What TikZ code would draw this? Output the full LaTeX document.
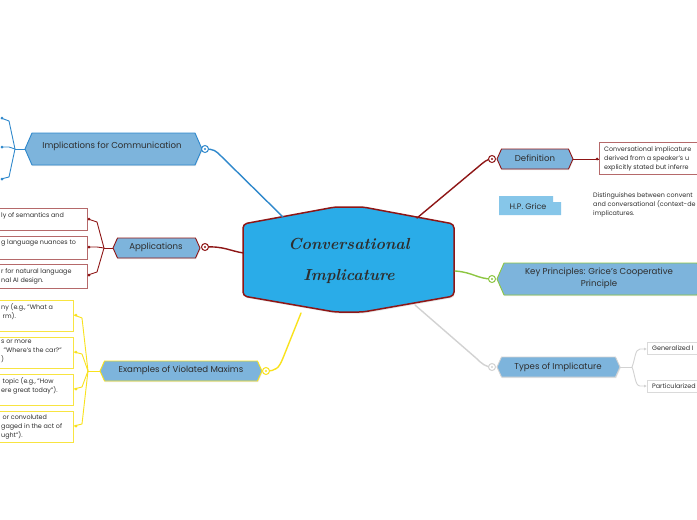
\documentclass[tikz,border=0pt]{standalone}
\usepackage{fontspec}
\setmainfont{Poppins}
\newfontfamily\titlefont{Latin Modern Roman}
\usetikzlibrary{shadows,arrows.meta}
\definecolor{hexblue}{HTML}{7DB4DC}
\definecolor{hpblue}{HTML}{86C6E9}
\definecolor{mainblue}{HTML}{2AACE8}
\definecolor{darkred}{HTML}{8E1616}
\definecolor{bluec}{HTML}{2F88CC}
\definecolor{yellowc}{HTML}{F9E21C}
\definecolor{greenc}{HTML}{8DC641}
\definecolor{greyc}{HTML}{D2D2D2}
\definecolor{redbox}{HTML}{B5696A}
\definecolor{yellowbox}{HTML}{F8E441}
\definecolor{greybox}{HTML}{DADADA}
\definecolor{txt}{HTML}{2E2E2E}
\tikzset{
  hexfill/.style={fill=hexblue, line width=0.9pt, line join=round,
    drop shadow={shadow xshift=0.6pt, shadow yshift=-1.2pt, opacity=0.18}},
  mainshape/.style={fill=mainblue, draw=darkred, line width=1.5pt, rounded corners=4pt,
    drop shadow={shadow xshift=0.8pt, shadow yshift=-1.5pt, opacity=0.2}},
  hextext/.style={font=\fontsize{8.6}{11.5}\selectfont, text=txt, inner sep=0pt, align=center},
  maintext/.style={font=\titlefont\bfseries\itshape\fontsize{16}{31}\selectfont, text=txt, inner sep=0pt, align=center},
  ringnode/.style={circle, fill=white, minimum size=7pt, inner sep=0pt, line width=1pt},
  childbox/.style={fill=white, line width=1pt, anchor=north west, inner sep=0pt},
  childtext/.style={font=\fontsize{6.4}{9}\selectfont, text=txt, inner sep=0pt, align=left, anchor=north west},
  conn/.style={line width=1.4pt, line cap=round},
  brk/.style={line width=0.9pt, line join=round},
}
\newcommand\hexshape[6]{%
  \path[hexfill, draw=#6] (#1,#3) -- ({#1+#5},{#3-#4}) -- ({#2-#5},{#3-#4}) -- (#2,#3) -- ({#2-#5},{#3+#4}) -- ({#1+#5},{#3+#4}) -- cycle;}
\newcommand\ringdot[3]{\node[ringnode, draw=#2] (#1) at #3 {}; \fill[#2] (#1.center) circle (1.2pt);}
\begin{document}
\begin{tikzpicture}[x=1pt, y=-1pt]
\useasboundingbox (0,0) rectangle (697,520);
\fill[white] (0,0) rectangle (697,520);

% ---------- child boxes ----------
\node[childbox, draw=redbox, minimum width=92pt, minimum height=22pt] (a1) at (-5,208) {};
\node[childbox, draw=redbox, minimum width=92pt, minimum height=23pt] (a2) at (-5,236) {};
\node[childbox, draw=redbox, minimum width=92pt, minimum height=24pt] (a3) at (-5,264) {};
\node[childtext] (a1t) at (1,212.5) {ly of semantics and};
\node[childtext] (a2t) at (1,239.5) {g language nuances to};
\node[childtext] (a3t) at (1,268.5) {r for natural language\\nal AI design.};

\node[childbox, draw=yellowbox, minimum width=78pt, minimum height=31pt] (e1) at (-5,300) {};
\node[childbox, draw=yellowbox, minimum width=78pt, minimum height=31pt] (e2) at (-5,337) {};
\node[childbox, draw=yellowbox, minimum width=78pt, minimum height=31pt] (e3) at (-5,374) {};
\node[childbox, draw=yellowbox, minimum width=78pt, minimum height=31pt] (e4) at (-5,411) {};
\node[childtext] (e1t) at (1,303.5) {ny (e.g., "What a\\\hspace*{1.5pt}rm).};
\node[childtext] (e2t) at (1,339.5) {s or more\\\hspace*{2.5pt}"Where's the car?"\\)};
\node[childtext] (e3t) at (1,377.5) {\hspace*{1.5pt}topic (e.g., "How\\ere great today").};
\node[childtext] (e4t) at (1,414.5) {\hspace*{1.5pt}or convoluted\\gaged in the act of\\ught").};

\node[childbox, draw=redbox, minimum width=110pt, minimum height=32pt] (d1) at (599,142) {};
\node[childtext] (d1t) at (604,146.5) {Conversational implicature\\derived from a speaker's u\\explicitly stated but inferre};

\node[childbox, draw=greybox, minimum width=60pt, minimum height=12pt] (t1) at (647,342) {};
\node[childbox, draw=greybox, minimum width=60pt, minimum height=12pt] (t2) at (647,380) {};
\node[childtext, anchor=west] (t1t) at (652,348) {Generalized I};
\node[childtext, anchor=west] (t2t) at (652,386) {Particularized};

% ---------- hexagon nodes ----------
\hexshape{25}{202}{149}{16}{7}{bluec}
\node[hextext] (comm) at (112,146) {Implications for Communication};
\hexshape{113}{200}{248}{10}{4.5}{darkred}
\node[hextext] (app) at (156,247.5) {Applications};
\hexshape{100}{262}{371}{10}{4.5}{yellowc}
\node[hextext] (ex) at (181,370.5) {Examples of Violated Maxims};
\hexshape{497}{573}{159}{10}{4.5}{darkred}
\node[hextext] (defn) at (535,158.5) {Definition};
\hexshape{497}{704}{279}{16}{7}{greenc}
\node[hextext] (key) at (599,278.5) {Key Principles: Grice's Cooperative\\Principle};
\hexshape{497}{620}{367}{10}{4.5}{greyc}
\node[hextext] (types) at (558,367) {Types of Implicature};

% H.P. Grice
\fill[hpblue] (499,196) -- (553,196) -- (553,202) -- (561,202) -- (561,215) -- (499,215) -- cycle;
\node[hextext, font=\fontsize{8}{9}\selectfont] (hpg) at (528,206) {H.P. Grice};
\node[childtext] (dist) at (593,192.5) {Distinguishes between convent\\and conversational (context-de\\implicatures.};

% ---------- main node ----------
\path[mainshape] (243,224) -- (335,207) -- (363,207) -- (454,224) -- (454,296) -- (363,312) -- (335,312) -- (243,296) -- cycle;
\node[maintext] (main) at (349,261) {Conversational\\Implicature};

% ---------- anchor coordinates ----------
\coordinate (m-comm) at (283,217);
\coordinate (m-app) at (243.5,253);
\coordinate (m-ex) at (301,313);
\coordinate (m-def) at (417,218);
\coordinate (m-key) at (455,271);
\coordinate (m-types) at (415,305);

% ---------- main connectors ----------
\draw[conn, bluec] (205,149) .. controls (214,149) and (216,151) .. (221,156) -- (m-comm);
\draw[conn, darkred] (205,247) .. controls (224,246) and (230,251) .. (m-app);
\draw[conn, yellowc] (266,371) .. controls (276,371) and (279,368) .. (283,358) -- (m-ex);
\draw[conn, darkred] (m-def) -- (478,167) .. controls (484,162) and (487,159) .. (492,159);
\draw[conn, greenc] (m-key) .. controls (472,272) and (478,279) .. (492,279);
\draw[conn, greyc] (m-types) -- (476,358) .. controls (482,364) and (486,367) .. (492,367);

\ringdot{r1}{bluec}{(205,149)}
\ringdot{r2}{darkred}{(205,247)}
\ringdot{r3}{yellowc}{(266,371)}
\ringdot{r4}{darkred}{(492,159)}
\ringdot{r5}{greenc}{(492,279)}
\ringdot{r6}{greyc}{(492,367)}

% ---------- brackets ----------
\coordinate (cj) at (15,149);
\draw[brk, bluec] (25,149) -- (cj);
\draw[brk, bluec] (cj) -- (9,121) -- (1,118);
\draw[brk, bluec] (cj) -- (9,147) -- (1,147);
\draw[brk, bluec] (cj) -- (9,177) -- (1,179);
\foreach \yy in {118,147,179} \fill[bluec] (2,\yy) circle (1.5pt);

\coordinate (aj) at (104,248);
\draw[brk, darkred] (113,248) -- (aj);
\draw[brk, darkred] (aj) -- (97,222) -- (a1.east |- 0,219);
\draw[brk, darkred] (aj) -- (97,247) -- (a2.east |- 0,247);
\draw[brk, darkred] (aj) -- (97,272) -- (a3.east |- 0,275);
\foreach \yy in {219,247,275} \fill[darkred] (89,\yy) circle (1.5pt);

\coordinate (ej) at (88,371);
\draw[brk, yellowc] (100,371) -- (ej);
\draw[brk, yellowc] (ej) -- (82,318) -- (e1.east |- 0,315);
\draw[brk, yellowc] (ej) -- (82,354) -- (e2.east |- 0,352);
\draw[brk, yellowc] (ej) -- (82,387) -- (e3.east |- 0,389);
\draw[brk, yellowc] (ej) -- (82,424) -- (e4.east |- 0,426);
\foreach \yy in {315,352,389,426} \fill[yellowc] (76,\yy) circle (1.5pt);

\draw[brk, darkred] (573,159) -- (d1.west |- 0,159);
\fill[darkred] (597,159) circle (1.5pt);

\coordinate (tj) at (632,367);
\draw[brk, greyc] (620,367) -- (tj);
\draw[brk, greyc, -{Latex[length=3pt,width=3pt]}] (tj) .. controls (635,360) and (635,349) .. (640,349) -- (t1.west |- 0,349);
\draw[brk, greyc, -{Latex[length=3pt,width=3pt]}] (tj) .. controls (635,374) and (635,386) .. (640,386) -- (t2.west |- 0,386);
\end{tikzpicture}
\end{document}
